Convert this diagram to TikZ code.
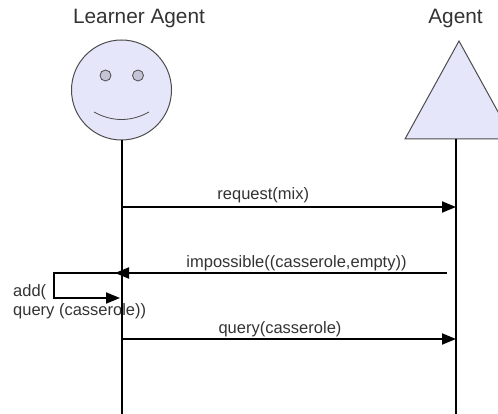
\documentclass[tikz,border=0pt]{standalone}
\usepackage{fontspec}
\setmainfont{Liberation Sans}
\usetikzlibrary{arrows.meta}
\definecolor{facefill}{HTML}{E6E6FA}
\definecolor{eyefill}{HTML}{C4C4D6}
\definecolor{textgray}{HTML}{333333}
\tikzset{>={Triangle[length=14pt,width=11pt]}}
\tikzset{shapeline/.style={draw=black!70, line width=1pt, fill=facefill}}
\tikzset{lifeline/.style={line width=2pt}}
\tikzset{msgline/.style={line width=2pt, ->}}
\tikzset{msglabel/.style={text=textgray, font=\fontsize{16.5}{19}\selectfont, inner sep=0pt}}
\tikzset{agentlabel/.style={text=textgray, font=\fontsize{20.8}{24}\selectfont, inner sep=0pt}}
\begin{document}
\begin{tikzpicture}[x=1pt, y=-1pt]
    \useasboundingbox(0, 0)rectangle(498, 414);
    \clip(0, 0)rectangle(498, 414);
    \node[agentlabel, anchor=base](learnerlabel) at (139, 23.5){Learner Agent};
    \node[agentlabel, anchor=base](agentlabel) at (455.5, 23.5){Agent};
    % the face
    \node[shapeline, circle, minimum size=100pt, inner sep=0pt](learner) at (121.5, 90){};
    \draw[line width=.8pt, draw=black!70, fill=eyefill](105.5, 75.5)circle(5.5);
    \draw[line width=.8pt, draw=black!70, fill=eyefill](138, 75.5)circle(5.5);
    \draw[line width=.8pt, draw=black!70](94, 112)..controls(112, 122)and(131, 122)..(149, 112);
    % the triangle
    \draw[shapeline](459, 41)--(405, 139)--(513, 139)--cycle;
    \coordinate(agent) at (456, 139);
    % labels, the lines run over them
    \node[msglabel, anchor=base](reqlabel) at (263.3, 199.3){request(mix)};
    \node[msglabel, anchor=base](implabel) at (296.5, 267){impossible((casserole,empty))};
    \node[msglabel, anchor=base west](addlabel) at (13, 296){add(};
    \node[msglabel, anchor=base west](addlabelb) at (13, 315){query (casserole))};
    \node[msglabel, anchor=base](querylabel) at (280, 333){query(casserole)};
    % lifelines
    \coordinate(learnertop) at (122, 140);
    \coordinate(learnerend) at (122, 414);
    \coordinate(agentend) at (456, 414);
    \draw[lifeline](learnertop)--(learnerend);
    \draw[lifeline](agent)--(agentend);
    % messages
    \coordinate(reqa) at (122, 207);
    \coordinate(reqb) at (456, 207);
    \coordinate(impa) at (447, 273);
    \coordinate(impb) at (115, 273);
    \coordinate(addb) at (118, 273);
    \coordinate(addc) at (54, 273);
    \coordinate(addd) at (54, 298);
    \coordinate(adde) at (120, 298);
    \coordinate(querya) at (122, 339);
    \coordinate(queryb) at (456, 339);
    \draw[msgline](reqa)--(reqb);
    \draw[msgline](impa)--(impb);
    \draw[msgline](addb)--(addc)--(addd)--(adde);
    \draw[msgline](querya)--(queryb);
\end{tikzpicture}
\end{document}
